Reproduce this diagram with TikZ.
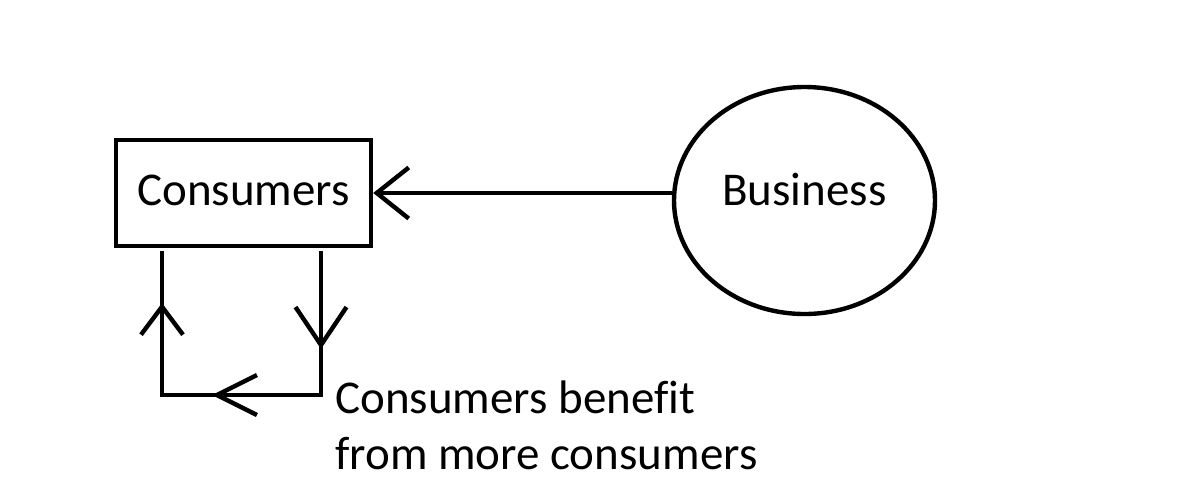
\documentclass[tikz,border=0pt]{standalone}
\usepackage{fontspec}
\setmainfont[Ligatures=CommonOff]{Carlito}
\usepackage{tikz}
\usetikzlibrary{arrows.meta,decorations.markings,shapes.geometric}

\begin{document}
\begin{tikzpicture}[x=0.5pt,y=-0.5pt]
\tikzset{every node/.style={inner sep=0pt,font=\fontsize{23.5pt}{28pt}\selectfont}}
\tikzset{box/.style={draw,line width=2.2pt,minimum width=127.5pt,minimum height=53pt,
text height=12pt,text depth=0pt}}
\tikzset{blob/.style={draw,ellipse,line width=2.2pt,minimum width=130.5pt,minimum height=113.5pt,
text height=10pt,text depth=5.5pt}}
\tikzset{link/.style={draw,line width=2.2pt}}
\tikzset{loopmarks/.style={postaction={decorate},decoration={markings,
mark=at position 49pt with {\arrow{Straight Barb[length=19pt,width=25.5pt]}},
mark=at position 126.5pt with {\arrow{Straight Barb[length=20pt,width=20pt]}},
mark=at position 197.5pt with {\arrow{Straight Barb[length=14pt,width=21pt]}}}}}
\useasboundingbox (0,0) rectangle (1182,500);
\node[box] (cons) at (243.5,193) {Consumers};
\node[blob] (bus) at (804.5,200.5) {Business};
\draw[link,-{Straight Barb[length=16pt,width=25.5pt]}] (bus.west |- cons.east) -- (cons.east);
% loop under the box
\coordinate (dn) at (321,251);
\coordinate (br) at (321,395);
\coordinate (bl) at (162,395);
\coordinate (up) at (162,251);
\draw[link,loopmarks] (dn) -- (br) -- (bl) -- (up);
\node[anchor=base west,align=left] (note) at (335,469) {Consumers benefit\\from more consumers};
\end{tikzpicture}
\end{document}
